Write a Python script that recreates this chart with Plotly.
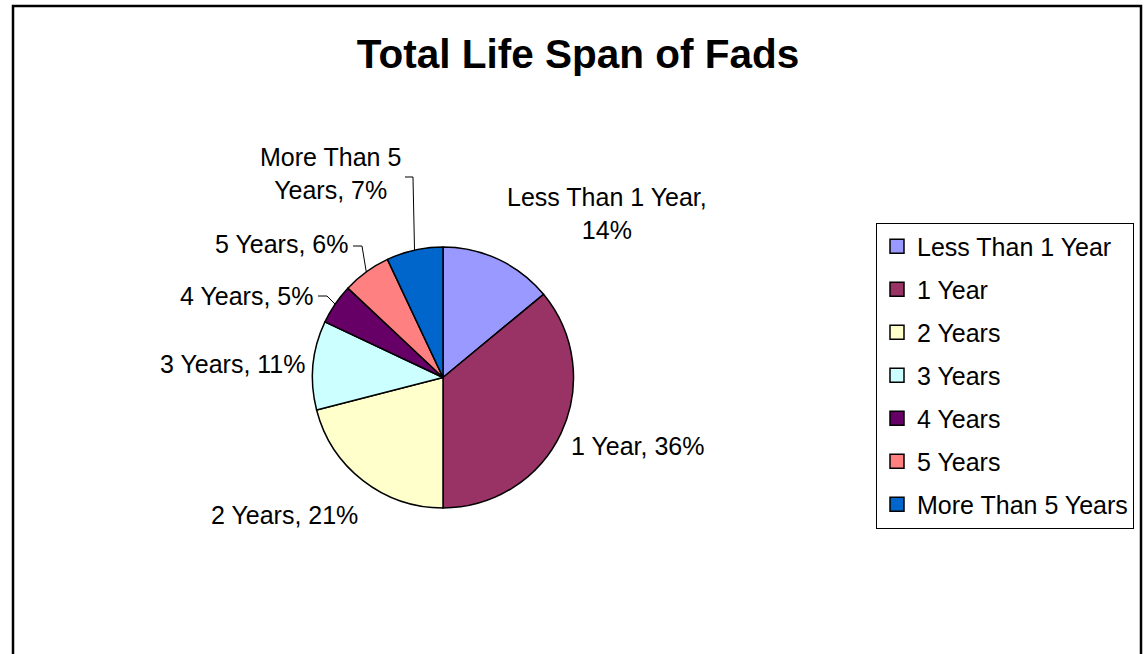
import math
import plotly.graph_objects as go

# ---------------- data ----------------
categories = ["Less Than 1 Year", "1 Year", "2 Years", "3 Years",
              "4 Years", "5 Years", "More Than 5 Years"]
values = [14, 36, 21, 11, 5, 6, 7]
colors = ["#9999FF", "#993366", "#FFFFCC", "#CCFFFF",
          "#660066", "#FF8080", "#0066CC"]
title_text = "Total Life Span of Fads"

# ---------------- layout helpers (pixel geometry) ----------------
W, H = 1146, 654
FONT = "Liberation Sans, Arial, sans-serif"
LABEL_SIZE = 25
def px(x):
    return x / W
def py(y):
    return 1 - y / H

CX, CY, R = 443, 377.5, 130.5   # pie centre / radius in pixels

# label placement: (x, y, xanchor, break-after-word or None, leader elbow points)
label_layout = [
    (606.5, 213.5, "center", 4, None),
    (569, 446, "left", None, None),
    (284, 515, "center", None, None),
    (307, 363.5, "right", None, None),
    (315, 295.5, "right", None, [(318, 296), (327, 296)]),
    (350, 243.5, "right", None, [(353, 246), (362, 246)]),
    (330, 174, "center", 3, [(405, 177), (413, 177)]),
]

total = sum(values)
fig = go.Figure()

fig.add_trace(go.Pie(
    labels=categories, values=values, sort=False, direction="clockwise",
    rotation=0, textinfo="none", showlegend=False,
    marker=dict(colors=colors, line=dict(color="black", width=1.5)),
    domain=dict(x=[px(CX - R), px(CX + R)], y=[py(CY + R), py(CY - R)]),
))

# legend entries (one group each so spacing can be controlled)
for cat, col in zip(categories, colors):
    fig.add_trace(go.Scatter(
        x=[None], y=[None], mode="markers", name=cat, legendgroup=cat,
        marker=dict(symbol="square", size=14, color=col,
                    line=dict(color="black", width=1.5)),
    ))

annotations = []
shapes = []
cum = 0
for cat, val, lay in zip(categories, values, label_layout):
    pct = round(val / total * 100)
    words = f"{cat}, {pct}%".split(" ")
    x, y, anchor, brk, elbow = lay
    if brk is not None:
        text = " ".join(words[:brk]) + "<br>" + " ".join(words[brk:])
    else:
        text = " ".join(words)
    annotations.append(dict(
        text=text, x=px(x), y=py(y), xref="paper", yref="paper",
        xanchor=anchor, yanchor="middle", showarrow=False, align="center",
        font=dict(family=FONT, size=LABEL_SIZE, color="black"),
    ))
    mid = (cum + val / 2) / total * 2 * math.pi
    cum += val
    if elbow:
        ex = CX + R * math.sin(mid)
        ey = CY - R * math.cos(mid)
        pts = elbow + [(ex, ey)]
        path = "M " + " L ".join(f"{px(a):.5f},{py(b):.5f}" for a, b in pts)
        shapes.append(dict(type="path", path=path, xref="paper", yref="paper",
                           line=dict(color="black", width=1)))

# chart frame
shapes.append(dict(type="rect", xref="paper", yref="paper",
                   x0=px(13), x1=px(1141), y0=py(6), y1=py(680),
                   line=dict(color="black", width=2.5)))

fig.update_layout(
    width=W, height=H,
    margin=dict(l=0, r=0, t=0, b=0),
    paper_bgcolor="white", plot_bgcolor="white",
    title=dict(text=f"<b>{title_text}</b>", x=px(578), xanchor="center",
               y=py(54), yanchor="middle",
               font=dict(family=FONT, size=40.5, color="black")),
    xaxis=dict(visible=False), yaxis=dict(visible=False),
    showlegend=True,
    legend=dict(x=px(876), y=py(222.5), xanchor="left", yanchor="top",
                bordercolor="black", borderwidth=1, bgcolor="white",
                font=dict(family=FONT, size=LABEL_SIZE, color="black"),
                tracegroupgap=7.5, itemclick=False, itemdoubleclick=False),
    annotations=annotations, shapes=shapes,
)

fig.write_html("out.html", config={"displayModeBar": False},
               post_script="document.body.style.margin='0';"
                           "document.body.style.overflow='hidden';")
